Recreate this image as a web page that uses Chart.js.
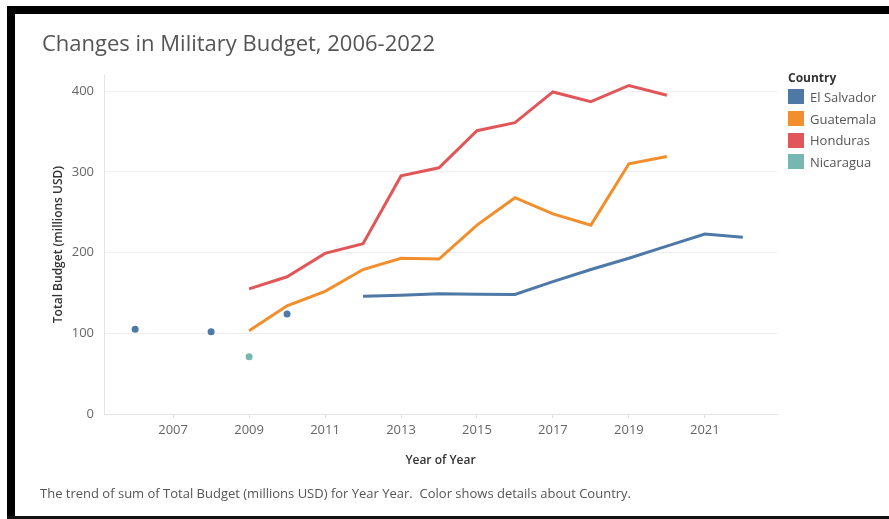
<!DOCTYPE html>
<html lang="en">
<head>
    <meta charset="UTF-8">
    <title>Changes in Military Budget, 2006-2022</title>
    <script src="https://cdn.jsdelivr.net/npm/chart.js"></script>
    <style>
        html, body { margin: 0; padding: 0; background: #fff; }
        body { width: 889px; height: 519px; position: relative; overflow: hidden; font-family: "Open Sans", sans-serif; }
        .frame-top { position: absolute; left: 7px; top: 6px; width: 882px; height: 8px; background: #000; }
        .frame-left { position: absolute; left: 7px; top: 6px; width: 8px; height: 513px; background: #000; }
        .frame-bottom { position: absolute; left: 7px; top: 516px; width: 882px; height: 3px; background: #111; }
        .chart-box { position: absolute; left: 0; top: 0; width: 889px; height: 519px; }
        h1 { position: absolute; left: 42px; top: 31px; margin: 0; font-size: 22px; font-weight: 400; color: #555; line-height: 1; white-space: nowrap; }
        .caption { position: absolute; left: 40px; top: 484px; margin: 0; font-size: 13px; color: #555; white-space: pre; }
        .legend { position: absolute; left: 788px; top: 70px; }
        .legend .head { font-size: 12px; font-weight: 700; color: #333; line-height: 16px; margin-bottom: 0; }
        .legend .item { display: flex; align-items: center; height: 21.7px; font-size: 13px; color: #555; }
        .legend .sw { width: 16px; height: 15px; margin-right: 6px; }
    </style>
</head>
<body>
    <div class="chart-box"><canvas id="budgetChart" width="889" height="519"></canvas></div>
    <h1>Changes in Military Budget, 2006-2022</h1>
    <div class="legend" id="legend"><div class="head">Country</div></div>
    <p class="caption">The trend of sum of Total Budget (millions USD) for Year Year.  Color shows details about Country.</p>
    <div class="frame-top"></div>
    <div class="frame-left"></div>
    <div class="frame-bottom"></div>

    <script>
        // Budget per year, millions USD (null = no data that year)
        const years = [2006, 2007, 2008, 2009, 2010, 2011, 2012, 2013, 2014, 2015, 2016, 2017, 2018, 2019, 2020, 2021, 2022];
        const elSalvador = [105, null, 102, null, 124, null, 146, 147, 149, 148.5, 148, 164, 179, 193, 208, 223, 219];
        const guatemala  = [null, null, null, 103, 134, 152, 179, 193, 192, 234, 268, 248, 234, 310, 319, null, null];
        const honduras   = [null, null, null, 155, 170, 199, 211, 295, 305, 351, 361, 399, 387, 407, 395, null, null];
        const nicaragua  = [null, null, null, 71, null, null, null, null, null, null, null, null, null, null, null, null, null];

        const countries = ['El Salvador', 'Guatemala', 'Honduras', 'Nicaragua'];
        const colors = ['#4e79a7', '#f28e2b', '#e15759', '#76b7b2'];
        const series = [elSalvador, guatemala, honduras, nicaragua];

        const xTicks = [2007, 2009, 2011, 2013, 2015, 2017, 2019, 2021];
        const yTicks = [0, 100, 200, 300, 400];

        // years without a neighbour get a dot, like a lone mark
        function lonePoint(ctx) {
            const arr = series[ctx.datasetIndex];
            const i = ctx.dataIndex;
            if (arr[i] == null) return 0;
            const prev = i > 0 ? arr[i - 1] : null;
            const next = i < arr.length - 1 ? arr[i + 1] : null;
            return (prev == null && next == null) ? 3.5 : 0;
        }

        const datasets = series.map((arr, k) => ({
            label: countries[k],
            data: years.map((yr, i) => ({ x: yr, y: arr[i] })),
            borderColor: colors[k],
            backgroundColor: colors[k],
            borderWidth: 3,
            pointRadius: lonePoint,
            pointBorderWidth: 0,
            spanGaps: false,
            tension: 0
        }));

        // html legend
        const legend = document.getElementById('legend');
        countries.forEach((name, k) => {
            const row = document.createElement('div');
            row.className = 'item';
            row.innerHTML = '<span class="sw" style="background:' + colors[k] + '"></span>' + name;
            legend.appendChild(row);
        });

        const tickFont = { family: 'Open Sans', size: 13 };
        const titleFont = { family: 'Open Sans', size: 12, weight: '600' };

        new Chart(document.getElementById('budgetChart'), {
            type: 'line',
            data: { datasets: datasets },
            options: {
                responsive: false,
                animation: false,
                events: [],
                layout: { padding: { left: 47, top: 75, right: 112, bottom: 47 } },
                plugins: { legend: { display: false }, title: { display: false }, tooltip: { enabled: false } },
                scales: {
                    x: {
                        type: 'linear',
                        min: 2005.18,
                        max: 2022.9,
                        afterBuildTicks: s => { s.ticks = xTicks.map(v => ({ value: v })); },
                        afterFit: s => { s.height = 58; },
                        ticks: { color: '#666', font: tickFont, padding: 4, callback: v => String(v) },
                        grid: { drawOnChartArea: false, drawTicks: true, tickLength: 4, color: '#ddd' },
                        border: { color: '#e4e4e4' },
                        title: { display: true, text: 'Year of Year', color: '#333', font: titleFont, padding: { top: 4, bottom: 4 } }
                    },
                    y: {
                        min: 0,
                        max: 420,
                        afterBuildTicks: s => { s.ticks = yTicks.map(v => ({ value: v })); },
                        afterFit: s => { s.width = 57; },
                        ticks: { color: '#666', font: tickFont, padding: 10 },
                        grid: { color: '#efefef', drawTicks: false },
                        border: { color: '#e4e4e4' },
                        title: { display: true, text: 'Total Budget (millions USD)', color: '#333', font: titleFont, padding: { top: 4, bottom: 4 } }
                    }
                }
            }
        });
    </script>
</body>
</html>
